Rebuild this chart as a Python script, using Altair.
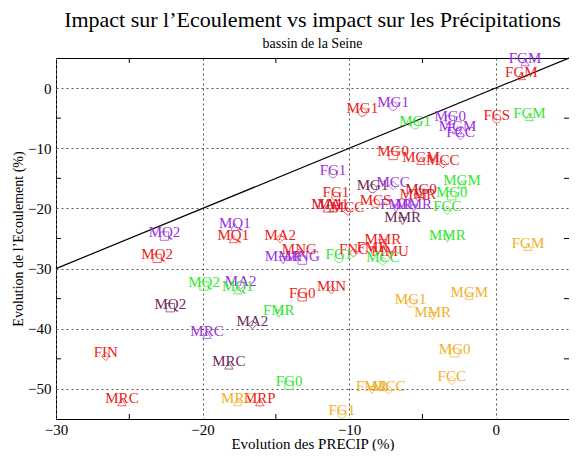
import altair as alt
import pandas as pd

# ---- data ----
labels = ["FGM", "MG1", "MG0", "MGM", "FCC", "FG1", "MCC", "FMR", "MMR", "MQ2", "MQ1", "MMR", "MNG", "MA2", "MRC",
          "FGM", "FCS", "MG1", "MG0", "MGM", "MCC", "FG1", "MA1", "MCC", "MCS", "MMR", "MMR", "FNC", "FMR", "MMU",
          "MQ2", "MQ1", "MA2", "MNG", "FG0", "MIN", "FIN", "MRC", "MRP",
          "MG0", "MA1",
          "FGM", "MG1", "MGM", "MG0", "FCC", "MMR", "FG1", "MCC", "MQ2", "MQ1", "FMR", "FG0",
          "MG1", "MMR", "MQ2", "MA2", "MRC",
          "FGM", "MGM", "MG1", "MMR", "MG0", "FCC", "FMR", "MCC", "FG1", "MRC"]
groups = ["purple"] * 15 + ["red"] * 24 + ["darkred"] * 2 + ["green"] * 12 + ["dark"] * 5 + ["orange"] * 10
shapes = ["triangle-up", "circle", "square", "triangle-up", "diamond", "circle", "diamond", "triangle-down",
          "triangle-down", "square", "triangle-up", "triangle-down", "square", "diamond", "triangle-up",
          "triangle-up", "circle", "circle", "square", "triangle-up", "diamond", "circle", "triangle-up", "diamond",
          "circle", "triangle-down", "triangle-down", "diamond", "triangle-down", "triangle-down",
          "square", "triangle-up", "diamond", "diamond", "square", "diamond", "diamond", "triangle-up", "triangle-up",
          "square", "triangle-up",
          "triangle-up", "circle", "triangle-up", "square", "diamond", "triangle-down", "circle", "diamond", "square",
          "triangle-up", "triangle-down", "square",
          "circle", "triangle-down", "square", "diamond", "triangle-up",
          "triangle-up", "triangle-up", "circle", "triangle-down", "square", "diamond", "triangle-down", "diamond",
          "circle", "triangle-up"]
precip = [2.0, -7.0, -3.1, -2.6, -2.4, -11.1, -7.0, -6.8, -5.6, -22.6, -17.8, -14.5, -13.2, -17.4, -19.7,
          1.75, 0.07, -9.1, -7.0, -5.1, -3.6, -10.9, -11.1, -10.1, -8.2, -5.3, -7.7, -9.7, -8.4, -7.2,
          -23.1, -17.9, -14.7, -13.4, -13.2, -11.2, -26.6, -25.5, -16.1,
          -5.1, -11.5,
          2.3, -5.5, -2.3, -3.0, -3.3, -3.3, -10.7, -7.7, -19.9, -17.6, -14.8, -14.1,
          -8.4, -6.35, -22.2, -16.6, -18.2,
          2.2, -1.8, -5.8, -4.3, -2.8, -3.0, -8.45, -7.3, -10.5, -17.6]
ecoul = [4.3, -3.0, -5.3, -7.0, -7.9, -14.2, -16.2, -20.0, -20.0, -24.6, -23.1, -28.6, -28.6, -32.7, -41.0,
         2.0, -5.1, -4.0, -11.2, -12.1, -12.6, -18.0, -20.0, -20.5, -19.2, -18.3, -25.8, -27.4, -27.0, -27.8,
         -28.3, -25.1, -25.0, -27.4, -34.7, -33.5, -44.6, -52.2, -52.2,
         -17.5, -20.0,
         -4.8, -6.1, -16.0, -17.9, -20.3, -25.0, -28.3, -28.8, -32.9, -33.6, -37.5, -49.4,
         -16.7, -22.1, -36.5, -39.3, -46.1,
         -26.4, -34.5, -35.7, -37.9, -44.0, -48.6, -50.2, -50.2, -54.2, -52.2]

group_names = ["red", "darkred", "purple", "green", "dark", "orange"]
group_colors = ["#ee2020", "#c8102e", "#9a30dd", "#33e633", "#6e2a5c", "#f2b028"]
shape_names = ["circle", "square", "triangle-up", "triangle-down", "diamond"]

diag_x = [-30, 5]
diag_y = [-30, 5]
x_minor = [-25, -15, -5]
y_minor = [-5, -15, -25, -35, -45]

df = pd.DataFrame({"label": labels, "group": groups, "shape": shapes, "x": precip, "y": ecoul})
diag = pd.DataFrame({"x": diag_x, "y": diag_y})
xt = pd.DataFrame({"v": x_minor})
yt = pd.DataFrame({"v": y_minor})

W, H = 513, 361
FONT = "Liberation Serif"

xscale = alt.Scale(domain=[-30, 5], nice=False, zero=False)
yscale = alt.Scale(domain=[-55, 5], nice=False, zero=False)
cscale = alt.Scale(domain=group_names, range=group_colors)
sscale = alt.Scale(domain=shape_names, range=shape_names)

xaxis = alt.Axis(values=[-30, -20, -10, 0], title="Evolution des PRECIP (%)", ticks=False, domain=False,
                 grid=True, gridDash=[2, 3], gridColor="#555555", gridWidth=1, labelFlush=False,
                 labelFont=FONT, labelFontSize=15, labelColor="black", labelPadding=3,
                 titleFont=FONT, titleFontSize=15, titleFontWeight="normal", titleColor="black", titlePadding=-1)
yaxis = alt.Axis(values=[0, -10, -20, -30, -40, -50], title="Evolution de l’Ecoulement  (%)", ticks=False,
                 domain=False, grid=True, gridDash=[2, 3], gridColor="#555555", gridWidth=1, labelFlush=False,
                 labelFont=FONT, labelFontSize=15, labelColor="black", labelPadding=5,
                 titleFont=FONT, titleFontSize=14, titleFontWeight="normal", titleColor="black", titlePadding=2)

line = alt.Chart(diag).mark_line(color="black", strokeWidth=1.2).encode(
    x=alt.X("x:Q", scale=xscale, axis=xaxis),
    y=alt.Y("y:Q", scale=yscale, axis=yaxis),
)

points = alt.Chart(df).mark_point(filled=False, size=70, strokeWidth=1, clip=False).encode(
    x=alt.X("x:Q", scale=xscale),
    y=alt.Y("y:Q", scale=yscale),
    color=alt.Color("group:N", scale=cscale, legend=None),
    shape=alt.Shape("shape:N", scale=sscale, legend=None),
)

texts = alt.Chart(df).mark_text(font=FONT, fontSize=15, baseline="alphabetic", align="center", dy=1).encode(
    x=alt.X("x:Q", scale=xscale),
    y=alt.Y("y:Q", scale=yscale),
    text="label:N",
    color=alt.Color("group:N", scale=cscale, legend=None),
)

tick_bottom = alt.Chart(xt).mark_rule(color="black").encode(
    x=alt.X("v:Q", scale=xscale), y=alt.value(H), y2=alt.value(H - 5))
tick_top = alt.Chart(xt).mark_rule(color="black").encode(
    x=alt.X("v:Q", scale=xscale), y=alt.value(0), y2=alt.value(5))
tick_left = alt.Chart(yt).mark_rule(color="black").encode(
    y=alt.Y("v:Q", scale=yscale), x=alt.value(0), x2=alt.value(5))
tick_right = alt.Chart(yt).mark_rule(color="black").encode(
    y=alt.Y("v:Q", scale=yscale), x=alt.value(W), x2=alt.value(W - 5))

chart = alt.layer(line, tick_bottom, tick_top, tick_left, tick_right, points, texts).properties(
    width=W, height=H,
    autosize=alt.AutoSizeParams(type="none"),
    padding={"left": 48, "top": 50, "right": 0, "bottom": 32},
    title=alt.TitleParams(
        text="Impact sur l’Ecoulement  vs impact sur les Précipitations",
        subtitle="bassin de la Seine",
        font=FONT, fontSize=22, fontWeight="normal", color="black",
        subtitleFont=FONT, subtitleFontSize=14, subtitleColor="black", subtitlePadding=5,
        anchor="middle", frame="group", offset=-1,
    ),
).configure_view(stroke="black", strokeWidth=1)

chart.save("out.html", embed_options={"renderer": "svg", "actions": False})
